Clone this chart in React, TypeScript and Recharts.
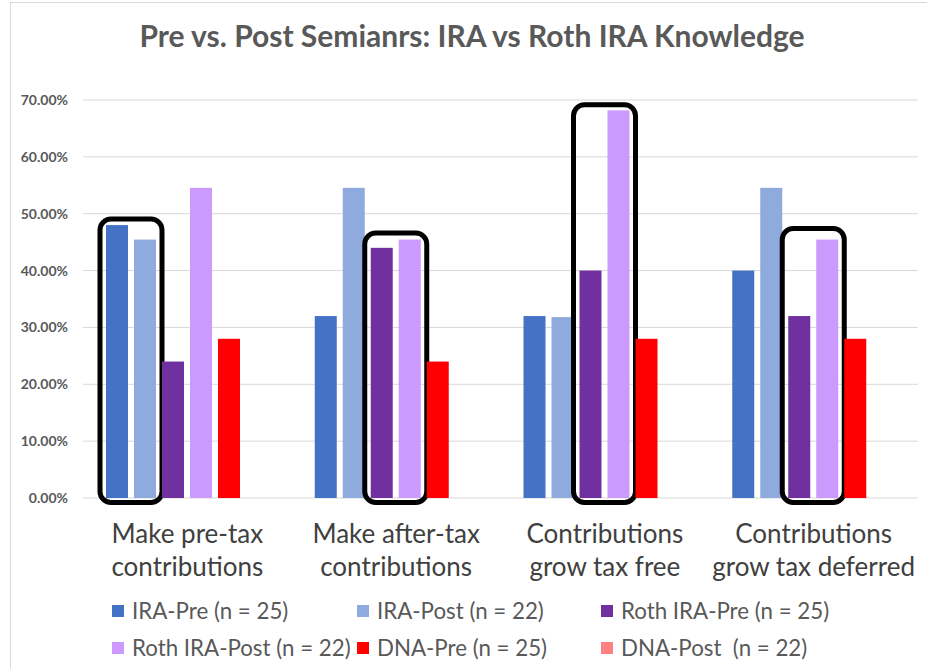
import React from 'react';
import { BarChart, Bar, XAxis, YAxis, CartesianGrid, Legend } from 'recharts';

const categories = [
  'Make pre-tax\ncontributions',
  'Make after-tax\ncontributions',
  'Contributions\ngrow tax free',
  'Contributions\ngrow tax deferred',
];
const iraPre = [48, 32, 32, 40];
const iraPost = [45.45, 54.55, 31.82, 54.55];
const rothIraPre = [24, 44, 40, 32];
const rothIraPost = [54.55, 45.45, 68.18, 45.45];
const dnaPre = [28, 24, 28, 28];
const dnaPost = [0, 0, 0, 0];
const yTicks = [0, 10, 20, 30, 40, 50, 60, 70];

const seriesKeys = ['iraPre', 'iraPost', 'rothIraPre', 'rothIraPost', 'dnaPre', 'dnaPost'];
const seriesNames = [
  'IRA-Pre (n = 25)',
  'IRA-Post (n = 22)',
  'Roth IRA-Pre (n = 25)',
  'Roth IRA-Post (n = 22)',
  'DNA-Pre (n = 25)',
  'DNA-Post  (n = 22)',
];
const seriesColors = ['#4472C4', '#8FAADC', '#7030A0', '#CC99FF', '#FF0000', '#FF8080'];
const seriesValues = [iraPre, iraPost, rothIraPre, rothIraPost, dnaPre, dnaPost];

// first series index of the circled pair in each category
const highlightFirst = [0, 2, 2, 2];
const highlightTopPad = [6, 6.5, 5.5, 11];

const title = 'Pre vs. Post Semianrs: IRA vs Roth IRA Knowledge';

const data = categories.map((c, i) => {
  const row: any = { category: c };
  seriesKeys.forEach((k, s) => {
    row[k] = seriesValues[s][i];
  });
  return row;
});

const FONT = 'Lato, "Liberation Sans", sans-serif';
const BAR_SIZE = 22;
const BAR_GAP = 6;

const makeShape = (si: number) => (props: any) => {
  const { x, y, width, height, fill, payload } = props;
  let idx = props.index;
  if (typeof idx !== 'number') idx = categories.indexOf(payload?.category);
  const els: any[] = [];
  if (height > 0) {
    els.push(<rect key="b" x={x} y={y} width={width} height={height} fill={fill} />);
  }
  if (highlightFirst[idx] + 1 === si && height > 0) {
    const a = payload[seriesKeys[si - 1]];
    const b = payload[seriesKeys[si]];
    const perUnit = height / b;
    const base = y + height;
    const top = base - Math.max(a, b) * perUnit;
    const left = x - width - BAR_GAP;
    const right = x + width;
    const padT = highlightTopPad[idx];
    els.push(
      <rect
        key="h"
        x={left - 6}
        y={top - padT}
        width={right - left + 12}
        height={base - top + padT + 4.5}
        rx={11}
        ry={11}
        fill="none"
        stroke="#000"
        strokeWidth={5}
      />
    );
  }
  return <g>{els}</g>;
};

const CategoryTick = (props: any) => {
  const { x, y, payload } = props;
  const lines = String(payload.value).split('\n');
  return (
    <text x={x} y={y} textAnchor="middle" fill="#404040" fontSize={26} fontFamily={FONT}>
      {lines.map((l, i) => (
        <tspan key={i} x={x} y={y + 37 + i * 33}>
          {l}
        </tspan>
      ))}
    </text>
  );
};

const renderLegend = () => (
  <div
    style={{
      display: 'grid',
      gridTemplateColumns: '245px 244px 244px',
      paddingLeft: 112,
      paddingTop: 18,
      fontFamily: FONT,
      fontSize: 22.3,
      color: '#595959',
    }}
  >
    {seriesNames.map((n, i) => (
      <div key={i} style={{ display: 'flex', alignItems: 'center', height: 37, whiteSpace: 'pre' }}>
        <span
          style={{
            display: 'inline-block',
            width: 12,
            height: 12,
            background: seriesColors[i],
            marginRight: 8,
          }}
        />
        <span>{n}</span>
      </div>
    ))}
  </div>
);

export default function App() {
  return (
    <div
      style={{
        position: 'absolute',
        left: 0,
        top: 0,
        width: 927,
        height: 669,
        background: '#fff',
        overflow: 'hidden',
      }}
    >
      <div
        style={{
          position: 'absolute',
          left: 10,
          top: 2,
          width: 1200,
          height: 1200,
          border: '1px solid #d9d9d9',
        }}
      />
      <div
        style={{
          position: 'absolute',
          left: 0,
          top: 17,
          width: 944,
          textAlign: 'center',
          fontFamily: FONT,
          fontWeight: 'bold',
          fontSize: 30,
          lineHeight: '36px',
          color: '#595959',
        }}
      >
        {title}
      </div>
      <div style={{ position: 'absolute', left: 0, top: 0 }}>
        <BarChart
          width={927}
          height={669}
          data={data}
          margin={{ top: 100, right: 9, bottom: 0, left: 0 }}
          barGap={BAR_GAP}
        >
          <CartesianGrid vertical={false} stroke="#d9d9d9" strokeWidth={1} />
          <XAxis
            dataKey="category"
            axisLine={false}
            tickLine={false}
            height={76}
            interval={0}
            tick={<CategoryTick />}
          />
          <YAxis
            width={83}
            domain={[0, 70]}
            ticks={yTicks}
            axisLine={false}
            tickLine={false}
            tickMargin={9}
            tickFormatter={(v: number) => `${v.toFixed(2)}%`}
            tick={{ fill: '#595959', fontSize: 14, fontWeight: 'bold', fontFamily: FONT }}
          />
          <Legend
            verticalAlign="bottom"
            height={95}
            content={renderLegend}
            wrapperStyle={{ left: 0, bottom: 0, width: 927 }}
          />
          {seriesKeys.map((k, i) => (
            <Bar
              key={k}
              dataKey={k}
              name={seriesNames[i]}
              fill={seriesColors[i]}
              barSize={BAR_SIZE}
              isAnimationActive={false}
              shape={makeShape(i)}
            />
          ))}
        </BarChart>
      </div>
    </div>
  );
}
